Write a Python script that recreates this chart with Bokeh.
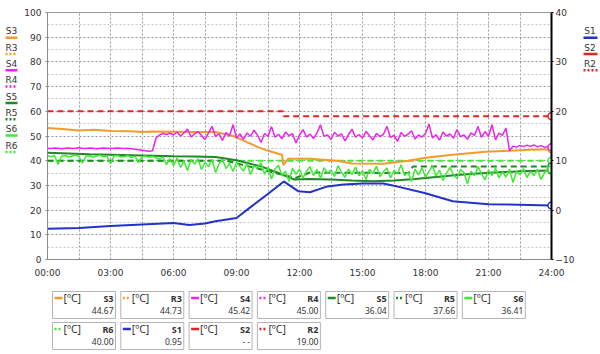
import numpy as np
from bokeh.plotting import figure
from bokeh.models import Range1d, LinearAxis, FixedTicker
from bokeh.layouts import row, column
from bokeh.embed import file_html
from bokeh.resources import INLINE
from bokeh.core.properties import value

FONT = "DejaVu Sans"
BOX_FONT = "Noto Sans"
TXT = "#333333"

# ---------------- data ----------------
x_ticks = [0, 3, 6, 9, 12, 15, 18, 21, 24]
x_tick_labels = ["00:00", "03:00", "06:00", "09:00", "12:00", "15:00", "18:00", "21:00", "24:00"]
x_minor = [1.5, 4.5, 7.5, 10.5, 13.5, 16.5, 19.5, 22.5]
y_left_ticks = [0, 10, 20, 30, 40, 50, 60, 70, 80, 90, 100]
y_left_minor = [5, 15, 25, 35, 45, 55, 65, 75, 85, 95]
y_right_ticks = [-10, 0, 10, 20, 30, 40]

# S3 (left axis)
s3_t = [0, 0.7, 1.5, 2.2, 3, 4, 4.5, 5, 6, 7, 8, 8.85, 9.5, 10, 10.5, 11, 11.17, 11.23, 11.47,
        12.5, 13.8, 14.5, 16, 17.2, 18, 19.3, 20.85, 22, 23, 24]
s3_v = [53.2, 52.8, 52.2, 52.5, 52.0, 51.9, 51.6, 51.8, 51.7, 51.6, 51.6, 50.0, 47.5, 45.6, 44.0, 42.8, 42.4, 38.2, 40.8,
        40.8, 40.0, 38.9, 38.8, 40.0, 41.2, 42.4, 43.6, 44.0, 44.4, 44.67]

# S4 (left axis), 10-minute samples, one row per hour
s4_v = [
    45.0, 44.9, 45.1, 45.0, 44.8, 45.0,
    45.1, 44.9, 45.0, 45.2, 45.0, 44.9,
    45.1, 45.0, 44.8, 45.0, 45.1, 45.0,
    44.9, 45.0, 45.1, 45.0, 44.9, 45.0,
    44.8, 44.6, 44.4, 44.2, 44.0, 43.8,
    44.0, 49.2, 50.4, 51.0, 50.6, 51.2,
    50.4, 51.6, 50.0, 51.2, 52.8, 49.6,
    50.9, 51.8, 50.2, 48.6, 51.3, 53.9,
    49.8, 50.9, 48.2, 51.4, 50.0, 54.6,
    49.3, 50.8, 48.7, 51.2, 49.9, 52.4,
    50.3, 47.4, 51.0, 49.8, 53.8, 49.5,
    50.7, 48.9, 51.6, 50.1, 50.9, 47.2,
    50.4, 52.6, 49.6, 50.8, 49.0, 51.3,
    54.5, 49.9, 50.4, 48.6, 51.5, 50.0,
    50.9, 48.0, 50.6, 52.8, 49.5, 50.6,
    49.2, 51.9, 50.1, 48.4, 51.1, 49.8,
    50.7, 53.9, 49.4, 50.3, 47.8, 51.4,
    49.9, 50.7, 52.1, 48.8, 50.4, 49.6,
    51.0, 54.8, 49.2, 50.5, 48.3, 51.6,
    50.0, 50.8, 49.1, 52.6, 49.7, 50.4,
    48.7, 51.3, 50.2, 53.9, 49.4, 51.8,
    49.9, 54.6, 48.4, 51.2, 50.3, 53.2,
    44.0, 45.9, 45.5, 46.2, 45.7, 46.3,
    45.8, 46.4, 45.6, 46.1, 45.4, 45.8,
    45.42,
]

# S5 (left axis)
s5_t = [0, 1, 2, 3, 4, 5, 6, 7, 8, 9, 10.2, 11, 11.75, 12.5, 13.5, 14.5, 15.5, 16.5, 17.5, 18.5,
        19.5, 20.5, 21.5, 22.5, 24]
s5_v = [43.2, 42.9, 42.6, 42.4, 42.2, 42.0, 41.8, 41.7, 41.5, 40.2, 37.6, 35.0, 32.4, 32.6, 32.4, 32.0, 31.7, 32.0, 32.6, 33.4,
        34.2, 34.8, 35.3, 35.7, 36.04]

# R5 (left axis)
r5_t = [0, 8.5, 11.8, 12.5, 17.2, 17.4, 24]
r5_v = [40.0, 40.0, 33.0, 35.2, 35.0, 37.66, 37.66]

# S6 (left axis), 10-minute samples, one row per hour
s6_v = [
    42.0, 41.6, 42.2, 38.5, 41.8, 42.1,
    41.5, 41.9, 42.3, 41.7, 39.0, 41.8,
    42.0, 41.4, 41.9, 42.2, 41.6, 41.8,
    38.8, 41.9, 42.1, 41.5, 41.7, 42.0,
    41.3, 41.8, 39.2, 41.6, 41.9, 41.4,
    41.7, 41.2, 40.5, 41.5, 38.4, 40.8,
    38.0, 41.1, 37.2, 39.9, 36.0, 40.4,
    38.6, 40.8, 36.4, 39.4, 37.6, 40.5,
    35.2, 38.6, 40.6, 36.8, 39.0, 35.6,
    39.4, 37.5, 35.8, 38.9, 34.4, 37.9,
    36.9, 39.2, 34.6, 37.3, 32.6, 36.6,
    38.2, 33.8, 35.8, 31.6, 37.0, 34.5,
    36.6, 33.0, 35.7, 37.6, 34.0, 36.4,
    32.8, 37.2, 34.9, 36.2, 33.6, 38.0,
    35.4, 33.2, 36.6, 34.4, 37.4, 33.9,
    35.9, 32.4, 36.5, 34.8, 37.8, 33.6,
    35.6, 37.0, 33.0, 36.1, 34.6, 38.4,
    34.0, 35.3, 31.6, 36.6, 34.3, 37.2,
    33.2, 35.8, 37.8, 33.8, 36.2, 32.0,
    35.0, 37.3, 34.4, 32.8, 36.4, 35.2,
    30.6, 35.8, 33.9, 37.6, 34.8, 32.2,
    36.2, 34.0, 37.0, 33.0, 35.5, 33.4,
    36.6, 31.2, 35.7, 34.3, 36.8, 33.2,
    35.6, 34.0, 36.5, 32.4, 35.1, 37.0,
    36.41,
]

# R6 (left axis)
r6_t = [0, 24]
r6_v = [40.0, 40.0]

# S1 (right axis)
s1_t = [0, 1.5, 3, 5, 6, 6.75, 7.5, 8, 9, 9.67, 10.6, 11.25, 11.95, 12.5, 13.33, 14.1, 15, 16, 16.43,
        18, 19.3, 21, 24]
s1_v = [-3.8, -3.6, -3.2, -2.8, -2.6, -3.0, -2.7, -2.25, -1.6, 0.6, 3.6, 5.8, 3.8, 3.6, 4.8, 5.2, 5.4, 5.4, 5.0,
        3.4, 1.8, 1.2, 0.95]

# R2 (right axis)
r2_t = [0, 11.22, 11.25, 24]
r2_v = [20.0, 20.0, 19.0, 19.0]

# legend boxes
box_names_row1 = ["S3", "R3", "S4", "R4", "S5", "R5", "S6"]
box_values_row1 = ["44.67", "44.73", "45.42", "45.00", "36.04", "37.66", "36.41"]
box_names_row2 = ["R6", "S1", "S2", "R2"]
box_values_row2 = ["40.00", "0.95", "- -", "19.00"]
unit_label = "[ºC]"

left_legend = ["S3", "R3", "S4", "R4", "S5", "R5", "S6", "R6"]
right_legend = ["S1", "S2", "R2"]

# ---------------- styles ----------------
ORANGE = "#F49A2E"
MAGENTA = "#EE22EE"
DKGREEN = "#1E8A24"
LTGREEN = "#3CEB32"
BLUE = "#2233CC"
RED = "#E42424"
style = {
    "S3": (ORANGE, "solid"), "R3": (ORANGE, "2 2"),
    "S4": (MAGENTA, "solid"), "R4": (MAGENTA, "2 2"),
    "S5": (DKGREEN, "solid"), "R5": (DKGREEN, "2 2"),
    "S6": (LTGREEN, "solid"), "R6": (LTGREEN, "2 2"),
    "S1": (BLUE, "solid"), "S2": (RED, "solid"), "R2": (RED, "2 2"),
}

# ---------------- main chart ----------------
main = figure(width=558, height=280, x_range=Range1d(0, 24), y_range=Range1d(0, 100),
              output_backend="svg", toolbar_location=None,
              min_border_left=27, min_border_right=27, min_border_top=12, min_border_bottom=18,
              background_fill_color="white", border_fill_color="white")
main.extra_y_ranges = {"right": Range1d(-10, 40)}
main.outline_line_color = "#9a9a9a"

main.xaxis.ticker = FixedTicker(ticks=x_ticks, minor_ticks=x_minor)
main.xaxis.major_label_overrides = dict(zip(x_ticks, x_tick_labels))
main.yaxis.ticker = FixedTicker(ticks=y_left_ticks, minor_ticks=y_left_minor)

right_axis = LinearAxis(y_range_name="right", ticker=FixedTicker(ticks=y_right_ticks))
main.add_layout(right_axis, "right")

for ax in [main.xaxis[0], main.yaxis[0], right_axis]:
    ax.major_label_text_font = FONT
    ax.major_label_text_font_size = "9px"
    ax.major_label_text_color = TXT
    ax.minor_tick_line_color = None
    ax.major_tick_in = 0
    ax.major_tick_out = 2
    ax.major_tick_line_color = "#888888"
    ax.major_label_standoff = 2
main.xaxis.axis_line_color = "#8a8a8a"
main.xaxis.major_tick_out = 0
main.xaxis.major_label_standoff = 4
main.yaxis.axis_line_color = "#8a8a8a"
right_axis.axis_line_color = "black"
right_axis.axis_line_width = 2
right_axis.major_tick_line_color = "black"

main.xgrid.grid_line_color = "#999999"
main.xgrid.grid_line_dash = "2 2"
main.xgrid.minor_grid_line_color = "#999999"
main.xgrid.minor_grid_line_dash = "2 2"
main.ygrid.grid_line_color = "#999999"
main.ygrid.grid_line_dash = "2 2"
main.ygrid.minor_grid_line_color = "#c4c4c4"
main.ygrid.minor_grid_line_dash = "2 2"

t10 = np.arange(len(s4_v)) / 6.0
t10b = np.arange(len(s6_v)) / 6.0

DASH = "6 4"
main.line(r6_t, r6_v, color=LTGREEN, line_width=2, line_dash=DASH)
main.line(r5_t, r5_v, color=DKGREEN, line_width=2, line_dash=DASH)
main.line(s5_t, s5_v, color=DKGREEN, line_width=2)
main.line(s3_t, s3_v, color=ORANGE, line_width=2)
main.line(t10b, s6_v, color=LTGREEN, line_width=1.5)
main.line(t10, s4_v, color=MAGENTA, line_width=1.5)
main.line(s1_t, s1_v, color=BLUE, line_width=2, y_range_name="right")
main.line(r2_t, r2_v, color=RED, line_width=2, line_dash=DASH, y_range_name="right")

# end markers
for tt, vv, c, rn in [(s3_t, s3_v, ORANGE, "default"), (r6_t, r6_v, LTGREEN, "default"),
                      (r5_t, r5_v, DKGREEN, "default"), (s5_t, s5_v, DKGREEN, "default"),
                      (t10b, s6_v, LTGREEN, "default"), (t10, s4_v, MAGENTA, "default"),
                      (s1_t, s1_v, BLUE, "right"), (r2_t, r2_v, RED, "right")]:
    main.scatter([tt[-1]], [vv[-1]], marker="circle", size=7, fill_color="white",
                 line_color=c, line_width=1.5, y_range_name=rn)

# ---------------- side legends ----------------
def side_legend(names, width, cx, x0, x1):
    f = figure(width=width, height=280, x_range=Range1d(0, width), y_range=Range1d(280, 0),
               output_backend="svg", toolbar_location=None, x_axis_location=None,
               y_axis_location=None, min_border=0, outline_line_color=None,
               background_fill_color="white", border_fill_color="white")
    f.grid.visible = False
    ys = [21.5 + 18.5 * i for i in range(len(names))]
    f.text(x=[cx] * len(names), y=ys, text=names, text_font=value(FONT), text_font_size="9px",
           text_color=TXT, text_align="center", text_baseline="middle")
    for n, yy in zip(names, ys):
        c, d = style[n]
        f.line([x0, x1], [yy + 7, yy + 7], color=c, line_width=2.5, line_dash=d)
    return f

left_leg = side_legend(left_legend, 20, 11, 5, 17)
right_leg = side_legend(right_legend, 22, 11.5, 5, 19)

# ---------------- bottom boxes ----------------
bottom = figure(width=600, height=74, x_range=Range1d(0, 600), y_range=Range1d(74, 0),
                output_backend="svg", toolbar_location=None, x_axis_location=None,
                y_axis_location=None, min_border=0, outline_line_color=None,
                background_fill_color="white", border_fill_color="white")
bottom.grid.visible = False

BOX_W = 63
BOX_H = 27
PITCH = 68.3
for r_i, (names, vals) in enumerate([(box_names_row1, box_values_row1), (box_names_row2, box_values_row2)]):
    top = 11 + 31 * r_i
    lefts = [52 + PITCH * i for i in range(len(names))]
    bottom.quad(left=lefts, right=[l + BOX_W for l in lefts], top=[top] * len(names),
                bottom=[top + BOX_H] * len(names), fill_color="white", line_color="#b4b4b4", line_width=1)
    bottom.text(x=[l + 11 for l in lefts], y=[top + 6.5] * len(names), text=[unit_label] * len(names),
                text_font=value(BOX_FONT), text_font_size="10.5px", text_color=TXT,
                text_align="left", text_baseline="middle")
    bottom.text(x=[l + BOX_W - 2 for l in lefts], y=[top + 6.5] * len(names), text=names,
                text_font=value(BOX_FONT), text_font_size="9px", text_font_style="bold", text_color=TXT,
                text_align="right", text_baseline="middle")
    bottom.text(x=[l + BOX_W - 2 for l in lefts], y=[top + 18.5] * len(names), text=vals,
                text_font=value(BOX_FONT), text_font_size="8.5px", text_color=TXT,
                text_align="right", text_baseline="middle")
    for n, l in zip(names, lefts):
        c, d = style[n]
        bottom.line([l + 2, l + 10], [top + 6.5, top + 6.5], color=c, line_width=2.5, line_dash=d)

layout = column(row(left_leg, main, right_leg), bottom)
open("out.html", "w").write(file_html(layout, INLINE))
